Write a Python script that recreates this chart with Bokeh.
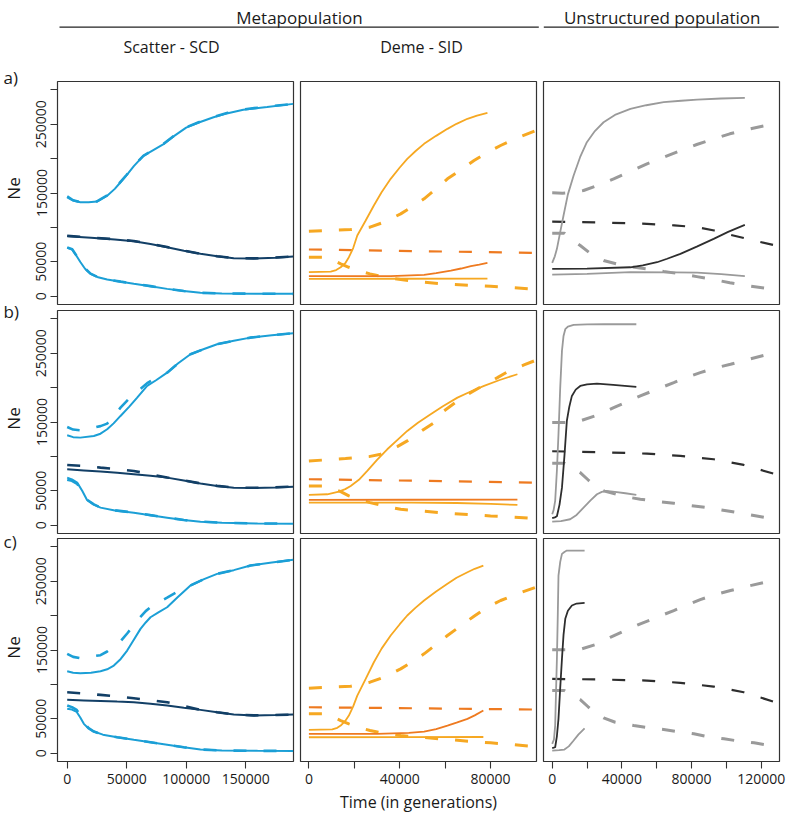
import math
from bokeh.plotting import figure
from bokeh.models import Range1d, FixedTicker, Label
from bokeh.layouts import row, column
from bokeh.core.properties import value
from bokeh.embed import file_html
from bokeh.resources import INLINE

FONT = "Open Sans"

# ---------------- axis ticks / labels ----------------
y_ticks = [0, 50000, 100000, 150000, 200000, 250000, 300000]
y_tick_labels = ["0", "50000", "", "150000", "", "250000", ""]
scd_x_ticks = [0, 50000, 100000, 150000]
scd_x_labels = ["0", "50000", "100000", "150000"]
sid_x_ticks = [0, 20000, 40000, 60000, 80000]
sid_x_labels = ["0", "", "40000", "", "80000"]
uns_x_ticks = [0, 20000, 40000, 60000, 80000, 100000, 120000]
uns_x_labels = ["0", "", "40000", "", "80000", "", "120000"]

row_letters = ["a)", "b)", "c)"]
col_titles = ["Scatter - SCD", "Deme - SID"]
group_titles = ["Metapopulation", "Unstructured population"]
y_label = "Ne"
x_label = "Time (in generations)"

# ---------------- Scatter - SCD (metapopulation) ----------------
a_scd_hi_t = [0, 5000, 11000, 18000, 25000, 33600, 40000, 45000, 50000, 56000, 64000, 72000, 81000, 90000, 100000, 110000, 123000, 135000, 148000, 168000, 190000]
a_scd_hi_solid = [143800, 139000, 136600, 136500, 137500, 146000, 156000, 166000, 176000, 189000, 204000, 212000, 221000, 233000, 245000, 252000, 260000, 266000, 271000, 275000, 279500]
a_scd_hi_dash = [145000, 139500, 136800, 136500, 137800, 146500, 156500, 166500, 176500, 189500, 204000, 212500, 221500, 233500, 245500, 252500, 260500, 266500, 271500, 275500, 279500]
a_scd_mid_t = [0, 20000, 40000, 56000, 70000, 84000, 98000, 112000, 126000, 140000, 157000, 175000, 190000]
a_scd_mid_solid = [87200, 85000, 82500, 79900, 76000, 71200, 66000, 61600, 58000, 55200, 54800, 56000, 57700]
a_scd_mid_dash = [87800, 85300, 82800, 80200, 76300, 71400, 66200, 61800, 58200, 55400, 55000, 56200, 57700]
a_scd_lo_t = [0, 4200, 8000, 11200, 15000, 19600, 26000, 33600, 45000, 56000, 70000, 84000, 98000, 112000, 130000, 160000, 190000]
a_scd_lo_solid = [70300, 67900, 58000, 49400, 40000, 32500, 27500, 24300, 21000, 18000, 14500, 10700, 7500, 4900, 4000, 3600, 3500]
a_scd_lo_dash = [71000, 68300, 58500, 49800, 40300, 32800, 27700, 24500, 21200, 18200, 14700, 10900, 7600, 5000, 4000, 3600, 3500]

b_scd_hi_t = [0, 5000, 11000, 22400, 28000, 33600, 39000, 44800, 52000, 58800, 67200, 75000, 84000, 93000, 103600, 115000, 126000, 140000, 154000, 172000, 190000]
b_scd_hi_solid = [130800, 128000, 127300, 129700, 133000, 139500, 148000, 158800, 172000, 185400, 202400, 211000, 221700, 235000, 248500, 256000, 263000, 268000, 272600, 276000, 279000]
b_scd_hi_dash = [142800, 139000, 138000, 141800, 144000, 147600, 158000, 170900, 184000, 194000, 206500, 214500, 221700, 235000, 248500, 256000, 263000, 268000, 272600, 276000, 279000]
b_scd_mid_t = [0, 14000, 28000, 42000, 56000, 70000, 84000, 98000, 112000, 126000, 140000, 157000, 175000, 190000]
b_scd_mid_solid = [81400, 79700, 78000, 76200, 74100, 72000, 69200, 65000, 60500, 57000, 54600, 54200, 55000, 56100]
b_scd_mid_dash = [87600, 86000, 83700, 81500, 78900, 74000, 69400, 65200, 60700, 57200, 54800, 54400, 55100, 56100]
b_scd_lo_t = [0, 4000, 8400, 12600, 16800, 22400, 28000, 40000, 56000, 70000, 84000, 98000, 112000, 130000, 160000, 190000]
b_scd_lo_solid = [69200, 66500, 61900, 50000, 36300, 30000, 25600, 21500, 18300, 14500, 11000, 7500, 5200, 3500, 2600, 2300]
b_scd_lo_dash = [66000, 64500, 60000, 49000, 37000, 30300, 25800, 21700, 18500, 14700, 11200, 7600, 5300, 3600, 2600, 2300]

c_scd_hi_t = [0, 5000, 11000, 20000, 28000, 33600, 39200, 45000, 50400, 56000, 61600, 66000, 70000, 77000, 84000, 93000, 103600, 115000, 126000, 140000, 154000, 172000, 190000]
c_scd_hi_solid = [119100, 117000, 116200, 117000, 119100, 122000, 127400, 137000, 149200, 165000, 180700, 190000, 197600, 205000, 212100, 227000, 243700, 253000, 260600, 266000, 272700, 277000, 281000]
c_scd_hi_dash = [144400, 140000, 138000, 140500, 142500, 147800, 155000, 163000, 174000, 186000, 198000, 206500, 212000, 219500, 226000, 235000, 243700, 253000, 260600, 266000, 272700, 277000, 281000]
c_scd_mid_t = [0, 14000, 28000, 42000, 56000, 70000, 84000, 98000, 112000, 126000, 140000, 157000, 175000, 190000]
c_scd_mid_solid = [77600, 76800, 76000, 75000, 74100, 72000, 69300, 66000, 63000, 59500, 56200, 55000, 55500, 56200]
c_scd_mid_dash = [88600, 86800, 84800, 82500, 79900, 77000, 74100, 68500, 63200, 59600, 56300, 55000, 55500, 56200]
c_scd_lo_t = [0, 4000, 8000, 11000, 14000, 18000, 22400, 30000, 42000, 56000, 70000, 84000, 98000, 112000, 130000, 160000, 190000]
c_scd_lo_solid = [64500, 63500, 60000, 52000, 42700, 36000, 31500, 27000, 23200, 19500, 16000, 12500, 8700, 5500, 3900, 3500, 3400]
c_scd_lo_dash = [69300, 67000, 63000, 55000, 44500, 36500, 31500, 27000, 23200, 19500, 16000, 12500, 8700, 5500, 3900, 3500, 3400]

# ---------------- Deme - SID (metapopulation) ----------------
a_sid_rise_t = [0, 9600, 12000, 14000, 16000, 17600, 19500, 21300, 25000, 28600, 32000, 36000, 40000, 43300, 47000, 50700, 56000, 61000, 65000, 69800, 74000, 78600]
a_sid_rise = [34900, 35900, 38000, 42100, 48000, 56700, 70000, 88200, 110000, 131800, 151000, 170600, 187000, 199600, 211000, 221400, 233000, 243200, 250500, 257800, 262500, 266500]
a_sid_dhi_t = [0, 18400, 26900, 33000, 40400, 45000, 50700, 56000, 61000, 67000, 72700, 78000, 84400, 92000, 99900]
a_sid_dhi = [94500, 96900, 100300, 107500, 119700, 129000, 141500, 156000, 170600, 184000, 197200, 208000, 219000, 230500, 240800]
a_sid_dor_t = [0, 50700, 100000]
a_sid_dor = [67900, 65400, 63000]
a_sid_dlo_t = [0, 8000, 14000, 17600, 22000, 26900, 33000, 40400, 50000, 58000, 70000, 80000, 90000, 97700]
a_sid_dlo = [56700, 56700, 47100, 42100, 37000, 32500, 28000, 24300, 20500, 18000, 16000, 14500, 12500, 10700]
a_sid_or_t = [0, 20000, 36000, 50700, 56000, 62500, 67000, 71300, 75000, 78600]
a_sid_or = [29100, 29100, 29100, 31100, 33500, 37300, 40300, 43600, 46000, 48500]
a_sid_flat_t = [0, 40000, 78600]
a_sid_flat = [25300, 25400, 25600]

b_sid_rise_t = [0, 8100, 13200, 16000, 18400, 22000, 25700, 30000, 34500, 39000, 43300, 48000, 53600, 59000, 65400, 71000, 77100, 84000, 91800]
b_sid_rise = [44000, 45000, 48800, 52500, 57100, 66000, 78900, 95000, 110400, 124000, 137000, 149000, 161300, 173000, 185400, 194000, 202400, 211000, 219400]
b_sid_dhi_t = [0, 16100, 26400, 31600, 38900, 43300, 50700, 55100, 59500, 65400, 71200, 76400, 83000, 88100, 94700, 99900]
b_sid_dhi = [93400, 96800, 99700, 103200, 114300, 122500, 139500, 149100, 166100, 180600, 192700, 202400, 214500, 224200, 232900, 239700]
b_sid_dor_t = [0, 50000, 100000]
b_sid_dor = [66800, 64500, 61900]
b_sid_dlo_t = [0, 8000, 14000, 17600, 22000, 26900, 33000, 40400, 50000, 58000, 70000, 80000, 90000, 97700]
b_sid_dlo = [57100, 57100, 48800, 42600, 37500, 32900, 28000, 23200, 20500, 18300, 15500, 13500, 11800, 10200]
b_sid_or_t = [0, 45000, 91800]
b_sid_or = [36800, 37000, 37300]
b_sid_flat_t = [0, 45000, 65000, 80000, 91800]
b_sid_flat = [32900, 32900, 32300, 31000, 29500]

c_sid_rise_t = [0, 10300, 12500, 14000, 16000, 17600, 19500, 21300, 25000, 28600, 32000, 36000, 40000, 43300, 47000, 50700, 56000, 61000, 65000, 69800, 73000, 76800]
c_sid_rise = [34000, 34700, 37000, 40200, 47000, 54800, 68000, 83800, 108000, 132200, 152000, 171000, 187500, 200100, 211500, 221900, 235000, 246100, 255000, 263000, 268000, 272700]
c_sid_dhi_t = [0, 18400, 26900, 33000, 40400, 45000, 50700, 56000, 61000, 67000, 72700, 78000, 84400, 92000, 99900]
c_sid_dhi = [94500, 97400, 103200, 110400, 122600, 132000, 144400, 158000, 171000, 185500, 199100, 211000, 221900, 232000, 241200]
c_sid_dor_t = [0, 50000, 100000]
c_sid_dor = [66800, 65200, 63500]
c_sid_dlo_t = [0, 8000, 14000, 17600, 22000, 26900, 33000, 40400, 50000, 58000, 70000, 80000, 90000, 97700]
c_sid_dlo = [57200, 57200, 47500, 42700, 37500, 33000, 29000, 25700, 23000, 20900, 17500, 15100, 12500, 10200]
c_sid_or_t = [0, 30000, 44000, 50700, 56000, 61000, 65000, 69800, 73000, 76800]
c_sid_or = [28200, 28200, 29500, 31500, 35000, 40200, 44500, 50000, 55000, 62000]
c_sid_flat_t = [0, 40000, 76800]
c_sid_flat = [23200, 23400, 23600]

# ---------------- Unstructured population ----------------
a_uns_gup_t = [0, 1500, 2700, 4500, 6500, 9000, 12300, 16000, 19900, 24500, 29500, 36000, 44900, 54000, 64000, 74000, 83200, 97000, 110600]
a_uns_gup = [48500, 58000, 68900, 92000, 117300, 148000, 175400, 202000, 223800, 240000, 252800, 263500, 272300, 277500, 281900, 284000, 285800, 287300, 288300]
a_uns_blk_t = [0, 20000, 44900, 52000, 60200, 66000, 73600, 83000, 92700, 101000, 110600]
a_uns_blk = [39800, 40000, 42100, 45000, 49400, 54500, 61600, 72000, 83400, 93500, 103700]
a_uns_glo_t = [0, 20000, 44900, 70000, 83200, 97000, 110600]
a_uns_glo = [31500, 32500, 34900, 34800, 34400, 32000, 29100]
a_uns_dgup_t = [0, 6000, 12000, 18000, 26000, 35300, 45000, 54400, 64000, 73600, 83000, 92700, 102000, 112000, 122500]
a_uns_dgup = [150200, 149800, 151000, 153600, 161000, 170600, 181500, 192400, 202000, 211700, 220500, 228700, 236000, 242200, 248000]
a_uns_dblk_t = [0, 30000, 54400, 70000, 83200, 93000, 102400, 115000, 128200]
a_uns_dblk = [108500, 107000, 105200, 103000, 100300, 95500, 89200, 81500, 73700]
a_uns_dglo_t = [0, 7000, 11000, 16100, 21000, 25700, 30000, 36800, 45000, 54400, 64000, 73600, 83000, 92700, 102000, 112000, 122500]
a_uns_dglo = [91600, 91600, 83000, 73700, 64000, 56700, 51500, 47100, 43000, 39800, 36000, 32500, 28500, 24300, 19500, 15500, 11600]

b_uns_gup_t = [0, 800, 1700, 2700, 3600, 4600, 5600, 6500, 7500, 9000, 12300, 20000, 30000, 48300]
b_uns_gup = [16000, 22000, 35300, 80000, 132200, 200000, 253300, 275000, 284800, 288500, 291000, 291800, 292000, 292000]
b_uns_blk_t = [0, 1500, 2700, 4200, 5600, 7000, 8400, 9800, 11300, 13500, 16100, 20000, 25700, 35000, 48300]
b_uns_blk = [10200, 11500, 13000, 30000, 54600, 100000, 151500, 172000, 187900, 197000, 202400, 204800, 205800, 204000, 200900]
b_uns_glo_t = [0, 5000, 10300, 14000, 18000, 22000, 25700, 28500, 31000, 36000, 42000, 48300]
b_uns_glo = [5200, 6000, 8700, 15000, 25600, 36000, 45000, 48500, 49800, 48500, 46500, 44000]
b_uns_dgup_t = [0, 8000, 17000, 26000, 35300, 43000, 50600, 60000, 69800, 77000, 85000, 93000, 102400, 112000, 122500]
b_uns_dgup = [149100, 149100, 152500, 160000, 170900, 179500, 187900, 197500, 207200, 214500, 221700, 228000, 233900, 240500, 247400]
b_uns_dblk_t = [0, 30000, 54400, 73600, 92700, 110000, 128200]
b_uns_dblk = [107500, 106000, 104000, 100700, 95900, 87600, 74100]
b_uns_dglo_t = [0, 7000, 11000, 16100, 21000, 25700, 30000, 36800, 43000, 50600, 60000, 69800, 79000, 88900, 100000, 112000, 122500]
b_uns_dglo = [90100, 90100, 84000, 76400, 65000, 54600, 49500, 45000, 41000, 37800, 34800, 32000, 28800, 25600, 21000, 16000, 11000]

c_uns_gup_t = [0, 1000, 1700, 2200, 2700, 3200, 3600, 4600, 5600, 7000, 8400, 12000, 18600]
c_uns_gup = [13700, 20000, 40200, 90000, 137200, 200000, 258200, 278000, 289700, 292500, 294500, 294500, 294500]
c_uns_blk_t = [0, 1700, 2700, 3600, 4600, 5600, 6500, 7500, 9000, 11300, 14000, 18600]
c_uns_blk = [7300, 8700, 25000, 50000, 95000, 137200, 172000, 195300, 207000, 214600, 217500, 218500]
c_uns_glo_t = [0, 4000, 7000, 9500, 12300, 15000, 18600]
c_uns_glo = [3900, 4500, 5400, 10000, 18500, 27000, 36300]
c_uns_dgup_t = [0, 8000, 17000, 25000, 33300, 42000, 50600, 60000, 69800, 77000, 85000, 93000, 102400, 112000, 122500]
c_uns_dgup = [150200, 150200, 151700, 158000, 168500, 178500, 188000, 197500, 207300, 215000, 223300, 230000, 236400, 242500, 248500]
c_uns_dblk_t = [0, 30000, 54400, 73600, 92700, 110000, 128200]
c_uns_dblk = [108100, 107000, 105600, 102300, 96900, 88600, 74100]
c_uns_dglo_t = [0, 7000, 11000, 16100, 20900, 25000, 29500, 36200, 46800, 53500, 64000, 71700, 81300, 88000, 98600, 105300, 115900, 122600]
c_uns_dglo = [91100, 91100, 85000, 78000, 66800, 58000, 51400, 45000, 40200, 37800, 34400, 31500, 28200, 24700, 20900, 18400, 15100, 12200]

# ---------------- styling ----------------
LBLUE = "#1b9fd6"
NAVY = "#123f66"
AMBER = "#f6a822"
ORANGE = "#ee7a20"
GRAY = "#9a9a9a"
BLACK = "#2e2e2e"
DASH = "13 17"
TXT = "#1a1a1a"

X_RANGES = [(-8150, 190200), (-3700, 100200), (-5000, 130500)]
X_TICKS = [(scd_x_ticks, scd_x_labels), (sid_x_ticks, sid_x_labels), (uns_x_ticks, uns_x_labels)]


def scd_series(hi_t, hi_s, hi_d, mid_t, mid_s, mid_d, lo_t, lo_s, lo_d):
    return [
        (hi_t, hi_d, LBLUE, 2.6, DASH), (mid_t, mid_d, NAVY, 2.6, DASH), (lo_t, lo_d, LBLUE, 2.6, DASH),
        (hi_t, hi_s, LBLUE, 2.0, None), (mid_t, mid_s, NAVY, 2.0, None), (lo_t, lo_s, LBLUE, 2.0, None),
    ]


def sid_series(rise_t, rise, dhi_t, dhi, dor_t, dor, dlo_t, dlo, or_t, orv, fl_t, fl):
    return [
        (dhi_t, dhi, AMBER, 3.0, DASH), (dor_t, dor, ORANGE, 2.2, DASH), (dlo_t, dlo, AMBER, 3.0, DASH),
        (fl_t, fl, AMBER, 1.8, None), (or_t, orv, ORANGE, 1.8, None), (rise_t, rise, AMBER, 1.8, None),
    ]


def uns_series(gup_t, gup, blk_t, blk, glo_t, glo, dgup_t, dgup, dblk_t, dblk, dglo_t, dglo):
    return [
        (dgup_t, dgup, GRAY, 3.0, DASH), (dblk_t, dblk, BLACK, 2.2, DASH), (dglo_t, dglo, GRAY, 3.0, DASH),
        (glo_t, glo, GRAY, 1.8, None), (blk_t, blk, BLACK, 1.8, None), (gup_t, gup, GRAY, 1.8, None),
    ]


PANELS = [
    [scd_series(a_scd_hi_t, a_scd_hi_solid, a_scd_hi_dash, a_scd_mid_t, a_scd_mid_solid, a_scd_mid_dash, a_scd_lo_t, a_scd_lo_solid, a_scd_lo_dash),
     sid_series(a_sid_rise_t, a_sid_rise, a_sid_dhi_t, a_sid_dhi, a_sid_dor_t, a_sid_dor, a_sid_dlo_t, a_sid_dlo, a_sid_or_t, a_sid_or, a_sid_flat_t, a_sid_flat),
     uns_series(a_uns_gup_t, a_uns_gup, a_uns_blk_t, a_uns_blk, a_uns_glo_t, a_uns_glo, a_uns_dgup_t, a_uns_dgup, a_uns_dblk_t, a_uns_dblk, a_uns_dglo_t, a_uns_dglo)],
    [scd_series(b_scd_hi_t, b_scd_hi_solid, b_scd_hi_dash, b_scd_mid_t, b_scd_mid_solid, b_scd_mid_dash, b_scd_lo_t, b_scd_lo_solid, b_scd_lo_dash),
     sid_series(b_sid_rise_t, b_sid_rise, b_sid_dhi_t, b_sid_dhi, b_sid_dor_t, b_sid_dor, b_sid_dlo_t, b_sid_dlo, b_sid_or_t, b_sid_or, b_sid_flat_t, b_sid_flat),
     uns_series(b_uns_gup_t, b_uns_gup, b_uns_blk_t, b_uns_blk, b_uns_glo_t, b_uns_glo, b_uns_dgup_t, b_uns_dgup, b_uns_dblk_t, b_uns_dblk, b_uns_dglo_t, b_uns_dglo)],
    [scd_series(c_scd_hi_t, c_scd_hi_solid, c_scd_hi_dash, c_scd_mid_t, c_scd_mid_solid, c_scd_mid_dash, c_scd_lo_t, c_scd_lo_solid, c_scd_lo_dash),
     sid_series(c_sid_rise_t, c_sid_rise, c_sid_dhi_t, c_sid_dhi, c_sid_dor_t, c_sid_dor, c_sid_dlo_t, c_sid_dlo, c_sid_or_t, c_sid_or, c_sid_flat_t, c_sid_flat),
     uns_series(c_uns_gup_t, c_uns_gup, c_uns_blk_t, c_uns_blk, c_uns_glo_t, c_uns_glo, c_uns_dgup_t, c_uns_dgup, c_uns_dblk_t, c_uns_dblk, c_uns_dglo_t, c_uns_dglo)],
]


def style_axis(ax, ticks, labels, orientation):
    major = [t for t, l in zip(ticks, labels) if l]
    minor = [t for t, l in zip(ticks, labels) if not l]
    ax.ticker = FixedTicker(ticks=major, minor_ticks=minor)
    ax.major_label_overrides = {t: l for t, l in zip(ticks, labels) if l}
    ax.major_label_orientation = orientation
    ax.axis_line_color = None
    ax.major_tick_in = 0
    ax.major_tick_out = 7
    ax.minor_tick_in = 0
    ax.minor_tick_out = 7
    ax.major_tick_line_color = "#333333"
    ax.minor_tick_line_color = "#333333"
    ax.major_tick_line_width = 1.1
    ax.minor_tick_line_width = 1.1
    ax.major_label_text_font = FONT
    ax.major_label_text_font_size = "14px"
    ax.major_label_text_color = TXT


# page layout (no body margin): frames at x = 57 / 300 / 543, y = 81 / 310 / 538
def make_panel(r, c):
    p = figure(frame_width=236, frame_height=223,
               x_range=Range1d(*X_RANGES[c]), y_range=Range1d(-12000, 312000),
               x_axis_location="below" if r == 2 else None,
               y_axis_location="left" if c == 0 else None,
               toolbar_location=None, output_backend="svg",
               min_border_left=[31, 4, 4][c], min_border_right=[3, 3, 8][c],
               min_border_top=3, min_border_bottom=[3, 2, 58][r])
    p.grid.visible = False
    p.outline_line_color = "#333333"
    p.outline_line_width = 1.2
    p.background_fill_color = "white"
    p.border_fill_color = "white"
    if c == 0:
        style_axis(p.yaxis[0], y_ticks, y_tick_labels, "vertical")
        p.yaxis[0].major_label_standoff = 4
    if r == 2:
        xt, xl = X_TICKS[c]
        ax = p.xaxis[0]
        style_axis(ax, xt, xl, "horizontal")
        ax.major_label_standoff = 5
        if c == 1:
            ax.axis_label = x_label
            ax.axis_label_text_font = FONT
            ax.axis_label_text_font_size = "16px"
            ax.axis_label_text_font_style = "normal"
            ax.axis_label_text_color = TXT
            ax.axis_label_standoff = 4
    for t, v, color, w, dash in PANELS[r][c]:
        if dash:
            p.line(t, v, line_color=color, line_width=w, line_dash=dash)
        else:
            p.line(t, v, line_color=color, line_width=w)
    return p


def deco(width, height, x0, x1):
    f = figure(width=width, height=height, x_range=Range1d(x0, x1), y_range=Range1d(0, height),
               toolbar_location=None, output_backend="svg",
               x_axis_location=None, y_axis_location=None, min_border=0)
    f.grid.visible = False
    f.outline_line_color = None
    f.background_fill_color = "white"
    f.border_fill_color = "white"
    return f


# header (page x 26..787, page y 0..78 ; y = 78 - page_y)
hdr = deco(761, 78, 26, 787)
hdr.text(x=[299, 661.7], y=[61.2, 61.2], text=group_titles, text_font=value(FONT),
         text_font_size=value("17px"), text_align="center", text_baseline="alphabetic", text_color=TXT)
hdr.segment(x0=[59, 543.3], y0=[51.3, 51.3], x1=[538.3, 778.3], y1=[51.3, 51.3],
            line_color="#222222", line_width=1.3)
hdr.text(x=[171, 421], y=[31.5, 31.5], text=col_titles, text_font=value(FONT),
         text_font_size=value("16px"), text_align="center", text_baseline="alphabetic", text_color=TXT)

# left strip (page x 0..26, page y 0..819 ; y = 819 - page_y)
left = deco(26, 819, 0, 26)
left.text(x=[3, 3, 3], y=[742, 508, 278], text=row_letters, text_font=value(FONT),
          text_font_size=value("17px"), text_align="left", text_baseline="alphabetic", text_color=TXT)
for yc in [631, 401, 172]:
    left.add_layout(Label(x=13, y=yc, text=y_label, angle=math.pi / 2, text_font=FONT,
                          text_font_size="17px", text_align="center", text_baseline="middle",
                          text_color=TXT))

rows = [row(*[make_panel(r, c) for c in range(3)]) for r in range(3)]
layout = row(left, column(hdr, *rows))

open("out.html", "w").write(file_html(layout, INLINE))
